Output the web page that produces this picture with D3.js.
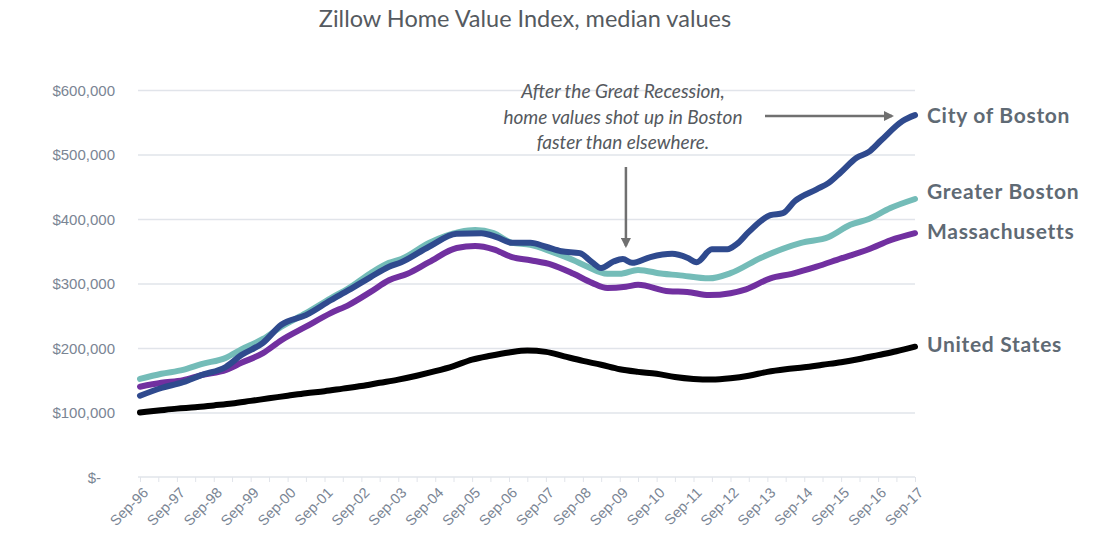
<!DOCTYPE html>
<html>
<head>
<meta charset="utf-8">
<script src="https://cdn.jsdelivr.net/npm/d3@7"></script>
<style>
  body { margin: 0; background: #fff; }
  svg { font-family: "Lato", "Open Sans", sans-serif; }
  .grid line { stroke: #e1e4ea; stroke-width: 1.5; }
  .grid .domain { display: none; }
  .y.axis text { fill: #7a8594; font-size: 15px; }
  .x.axis text { fill: #7a8594; font-size: 14.5px; }
  .axis .domain { stroke: #e1e4ea; stroke-width: 1.5; }
  .axis line { stroke: #e1e4ea; }
  .series-line { fill: none; stroke-width: 6; stroke-linecap: round; stroke-linejoin: round; }
  .series-label { fill: #5f6a74; font-size: 21px; font-weight: bold; letter-spacing: 0.7px; }
</style>
</head>
<body>
<svg id="chart" width="1108" height="558"></svg>
<script>
// values in thousands of dollars
const cityOfBoston = [
  ["1996-09", 126], ["1997-04", 138], ["1997-11", 147], ["1998-05", 158], ["1999-01", 171],
  ["1999-06", 189], ["2000-01", 208], ["2000-07", 236], ["2001-03", 251], ["2001-11", 274],
  ["2002-05", 290], ["2002-12", 310], ["2003-06", 326], ["2003-10", 333], ["2004-07", 357],
  ["2005-04", 377], ["2005-12", 378], ["2006-05", 372], ["2006-10", 363], ["2007-04", 363],
  ["2007-09", 357], ["2008-02", 350], ["2008-08", 347], ["2008-12", 333], ["2009-03", 324],
  ["2009-07", 334], ["2009-10", 338], ["2010-01", 332], ["2010-07", 341], ["2011-02", 346],
  ["2011-07", 340], ["2011-10", 333], ["2012-03", 353], ["2012-08", 353], ["2012-11", 361],
  ["2013-03", 380], ["2013-10", 406], ["2014-02", 409], ["2014-06", 428], ["2015-01", 446],
  ["2015-05", 456], ["2015-09", 473], ["2016-02", 495], ["2016-06", 504], ["2016-10", 522],
  ["2017-05", 552], ["2017-09", 561]
];
const greaterBoston = [
  ["1996-09", 152], ["1997-04", 160], ["1997-11", 166], ["1998-05", 175], ["1999-01", 185],
  ["1999-06", 198], ["2000-01", 214], ["2000-07", 233], ["2001-03", 254], ["2001-11", 277],
  ["2002-05", 293], ["2002-12", 316], ["2003-06", 332], ["2003-10", 338], ["2004-07", 363],
  ["2005-05", 380], ["2005-10", 383], ["2006-04", 378], ["2006-10", 363], ["2007-04", 360],
  ["2007-11", 349], ["2008-06", 336], ["2008-10", 327], ["2009-05", 315], ["2009-09", 315],
  ["2010-03", 321], ["2010-11", 315], ["2011-04", 313], ["2012-02", 308], ["2012-09", 316],
  ["2013-07", 340], ["2014-08", 363], ["2015-05", 372], ["2015-12", 391], ["2016-06", 400],
  ["2017-01", 417], ["2017-09", 431]
];
const massachusetts = [
  ["1996-09", 140], ["1997-04", 146], ["1997-11", 150], ["1998-05", 158], ["1999-01", 166],
  ["1999-06", 177], ["2000-01", 192], ["2000-07", 212], ["2001-03", 233], ["2001-11", 254],
  ["2002-05", 267], ["2002-12", 287], ["2003-06", 305], ["2003-12", 315], ["2004-07", 333],
  ["2005-04", 355], ["2005-10", 358], ["2006-04", 353], ["2006-10", 341], ["2007-04", 336],
  ["2007-11", 329], ["2008-06", 315], ["2008-12", 301], ["2009-05", 293], ["2009-11", 295],
  ["2010-03", 298], ["2011-01", 288], ["2011-07", 287], ["2012-02", 282], ["2012-09", 285],
  ["2013-02", 291], ["2013-10", 308], ["2014-05", 315], ["2015-01", 326], ["2015-09", 339],
  ["2016-06", 353], ["2017-01", 367], ["2017-09", 378]
];
const unitedStates = [
  ["1996-09", 100], ["1997-03", 103], ["1997-09", 106], ["1998-03", 108], ["1998-09", 111],
  ["1999-03", 114], ["1999-09", 118], ["2000-03", 122], ["2000-09", 126], ["2001-03", 130],
  ["2001-09", 133], ["2002-03", 137], ["2002-09", 141], ["2003-03", 146], ["2003-09", 151],
  ["2004-03", 157], ["2004-09", 164], ["2005-03", 172], ["2005-09", 182], ["2006-03", 188],
  ["2006-09", 193], ["2007-03", 196], ["2007-09", 194], ["2008-03", 187], ["2008-09", 180],
  ["2009-03", 174], ["2009-09", 167], ["2010-03", 163], ["2010-09", 160], ["2011-03", 155],
  ["2011-09", 152], ["2012-03", 151], ["2012-09", 153], ["2013-03", 157], ["2013-09", 163],
  ["2014-03", 167], ["2014-09", 170], ["2015-03", 174], ["2015-09", 178], ["2016-03", 183],
  ["2016-09", 189], ["2017-03", 195], ["2017-09", 202]
];
const seriesNames = ["City of Boston", "Greater Boston", "Massachusetts", "United States"];
const seriesColors = ["#2f4a8e", "#74bcb8", "#7130a0", "#000000"];
const yTicks = [0, 100000, 200000, 300000, 400000, 500000, 600000];
const xTickLabels = ["Sep-96", "Sep-97", "Sep-98", "Sep-99", "Sep-00", "Sep-01", "Sep-02",
  "Sep-03", "Sep-04", "Sep-05", "Sep-06", "Sep-07", "Sep-08", "Sep-09", "Sep-10", "Sep-11",
  "Sep-12", "Sep-13", "Sep-14", "Sep-15", "Sep-16", "Sep-17"];
const titleText = "Zillow Home Value Index, median values";
const noteLines = ["After the Great Recession,", "home values shot up in Boston", "faster than elsewhere."];

const parse = d3.timeParse("%Y-%m");
const datasets = [cityOfBoston, greaterBoston, massachusetts, unitedStates]
  .map(s => s.map(d => ({ date: parse(d[0]), value: d[1] * 1000 })));

const svg = d3.select("#chart");
const margin = { left: 140, right: 915, top: 90, bottom: 477 };
const start = parse("1996-09"), end = parse("2017-09");

const x = d3.scaleTime().domain([start, end]).range([margin.left, margin.right]);
const y = d3.scaleLinear().domain([0, 600000]).range([margin.bottom, margin.top]);

// gridlines
svg.append("g")
  .attr("class", "grid")
  .attr("transform", "translate(" + (margin.left - 2) + ",0)")
  .call(d3.axisLeft(y).tickValues(yTicks.slice(1)).tickSize(-(margin.right - margin.left + 2)).tickFormat(""));

// y axis labels
const fmt = d3.format("$,");
svg.append("g")
  .attr("class", "y axis")
  .attr("transform", "translate(" + (margin.left - 22) + ",0)")
  .call(d3.axisLeft(y).tickValues(yTicks).tickSize(0).tickFormat(v => v === 0 ? "$-" : fmt(v)))
  .call(g => g.select(".domain").remove())
  .selectAll("text").attr("dy", "0.35em");
svg.select(".y.axis").selectAll("text").filter(v => v === 0).attr("dx", "-14");

// x axis: ticks every 6 months from Sep-96, labels each September
const halfYears = d3.range(0, 253, 6).map(m => d3.timeMonth.offset(start, m));
const xAxis = svg.append("g")
  .attr("class", "x axis")
  .attr("transform", "translate(0," + margin.bottom + ")")
  .call(d3.axisBottom(x).tickValues(halfYears).tickSize(5).tickSizeOuter(0)
    .tickFormat((d, i) => i % 2 === 0 ? xTickLabels[i / 2] : ""));
xAxis.select(".domain").attr("d", "M" + (margin.left - 2) + ",0H" + margin.right);
xAxis.selectAll("text")
  .attr("text-anchor", "end")
  .attr("x", 0)
  .attr("y", 0)
  .attr("dy", "0.35em")
  .attr("transform", "translate(5,13) rotate(-45)");

// lines, drawn back to front so City of Boston sits on top
const line = d3.line().x(d => x(d.date)).y(d => y(d.value)).curve(d3.curveMonotoneX);
[3, 2, 1, 0].forEach(i => {
  svg.append("path")
    .attr("class", "series-line")
    .attr("stroke", seriesColors[i])
    .attr("d", line(datasets[i]));
});

// end labels
const labelShift = [0, -7, -2, -2];
seriesNames.forEach((name, i) => {
  const last = datasets[i][datasets[i].length - 1];
  svg.append("text")
    .attr("class", "series-label")
    .attr("x", x(last.date) + 12)
    .attr("y", y(last.value) + labelShift[i])
    .attr("dy", "0.35em")
    .text(name);
});

// title
svg.append("text")
  .attr("x", 525).attr("y", 27)
  .attr("text-anchor", "middle")
  .attr("fill", "#555a60")
  .attr("font-size", "23.5px")
  .text(titleText);

// annotation
svg.append("defs").append("marker")
  .attr("id", "arrow").attr("viewBox", "0 0 10 10")
  .attr("refX", 8).attr("refY", 5)
  .attr("markerWidth", 4).attr("markerHeight", 4)
  .attr("orient", "auto")
  .append("path").attr("d", "M0,0L10,5L0,10z").attr("fill", "#707070");

const note = svg.append("text")
  .attr("text-anchor", "middle")
  .attr("fill", "#55595e")
  .attr("font-size", "19px")
  .attr("font-style", "italic");
noteLines.forEach((t, i) => {
  note.append("tspan").attr("x", 623).attr("y", 98 + i * 25.5).text(t);
});

const noteDate = parse("2009-11");
svg.append("line")
  .attr("x1", x(noteDate)).attr("x2", x(noteDate))
  .attr("y1", 167).attr("y2", 246)
  .attr("stroke", "#707070").attr("stroke-width", 2.5)
  .attr("marker-end", "url(#arrow)");

svg.append("line")
  .attr("x1", 765).attr("x2", 892)
  .attr("y1", 116).attr("y2", 116)
  .attr("stroke", "#707070").attr("stroke-width", 2.5)
  .attr("marker-end", "url(#arrow)");
</script>
</body>
</html>
